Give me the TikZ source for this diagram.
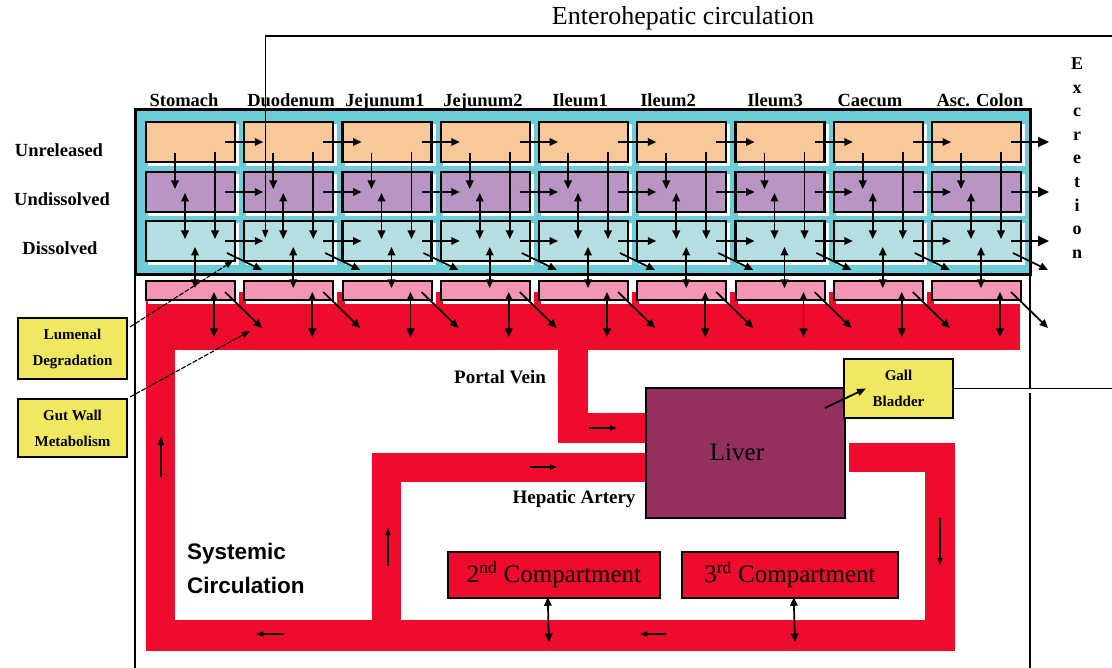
\documentclass[tikz,border=0pt]{standalone}
\usepackage{fontspec}
\setmainfont{Liberation Serif}
\newfontfamily\sansf{Liberation Sans}
\usetikzlibrary{arrows.meta,calc}
\definecolor{cyanbg}{RGB}{108,205,216}
\definecolor{peach}{RGB}{248,200,154}
\definecolor{lilac}{RGB}{184,149,196}
\definecolor{paleblue}{RGB}{181,222,224}
\definecolor{pinkc}{RGB}{244,149,184}
\definecolor{redc}{RGB}{238,12,44}
\definecolor{liverc}{RGB}{147,48,94}
\definecolor{yell}{RGB}{240,232,96}
\begin{document}
\begin{tikzpicture}[x=1pt,y=-1pt,
  cell/.style={draw=black,line width=2.4pt,minimum width=89pt,minimum height=40pt,inner sep=0pt,outer sep=0pt,anchor=north west},
  pinkbox/.style={draw=black,line width=2pt,fill=pinkc,minimum width=89pt,minimum height=19pt,inner sep=0pt,outer sep=0pt,anchor=north west},
  arr/.style={line width=1.7pt,-{Triangle[length=8.5pt,width=7.5pt]}},
  darr/.style={line width=1.7pt,{Triangle[length=8.5pt,width=7.5pt]}-{Triangle[length=8.5pt,width=7.5pt]}},
  bigarr/.style={line width=2pt,-{Triangle[length=11pt,width=10pt]}},
  flow/.style={line width=1.3pt,-{Triangle[length=7pt,width=5pt]}},
  lbl/.style={font=\bfseries\fontsize{18.5}{20}\selectfont,inner sep=0pt,anchor=base},
  ylab/.style={draw=black,line width=2pt,fill=yell,minimum width=109pt,inner sep=0pt,outer sep=0pt,align=center,font=\bfseries\fontsize{15}{26}\selectfont},
  comp/.style={draw=black,line width=2.6pt,fill=redc,minimum height=46pt,inner sep=0pt,font=\fontsize{25}{30}\selectfont},
  band/.style={fill=redc},
  leader/.style={line width=1.1pt,dash pattern=on 5pt off 1.5pt,-{Triangle[length=8pt,width=6pt]}},
]
\useasboundingbox (0,0) rectangle (1112,668);
\fill[white] (0,0) rectangle (1112,668);

% title
\node[font=\fontsize{26}{30}\selectfont,inner sep=0pt] (title) at (683,18) {Enterohepatic circulation};

% lumen (cyan) box
\node[draw=black,line width=3pt,fill=cyanbg,minimum width=895pt,minimum height=165pt,inner sep=0pt,outer sep=0pt,anchor=north west] (lumen) at (135,110) {};

% compartments in the lumen
\foreach \i in {1,...,9}{
  \pgfmathsetmacro\L{146+98.25*(\i-1)}
  \foreach \yy in {122,172,221}{\fill[white] (\L+2,\yy+2) rectangle (\L+93,\yy+44);}
  \node[cell,fill=peach] (u\i) at (\L,122) {};
  \node[cell,fill=lilac] (ud\i) at (\L,172) {};
  \node[cell,fill=paleblue] (d\i) at (\L,221) {};
  \coordinate (dg\i) at (\L+116,270);
  \coordinate (pb\i) at (\L+68,337);
  \coordinate (pg\i) at (\L+116,328);
}

% frame lines of the body
\draw[line width=1.5pt] (135,275) -- (135,668);
\draw[line width=1.5pt] (1030,275) -- (1030,388);
\draw[line width=1.5pt] (1030,393) -- (1030,668);

% red circulation bands
\fill[band] (146,292) rectangle (1020,350);
\fill[band] (146,292) rectangle (175,651);
\fill[band] (146,620) rectangle (955,651);
\fill[band] (925,443) rectangle (955,651);
\fill[band] (849,443) rectangle (955,472);
\fill[band] (372,453) rectangle (401,620);
\fill[band] (372,453) rectangle (646,482);
\fill[band] (558,350) rectangle (588,443);
\fill[band] (558,413) rectangle (646,443);

% gut wall boxes
\foreach \i in {1,...,9}{
  \pgfmathsetmacro\L{146+98.25*(\i-1)}
  \fill[white] (\L+2,283) rectangle (\L+93,304);
  \node[pinkbox] (p\i) at (\L,281) {};
}

% liver, gall bladder, compartments
\node[draw=black,line width=2.5pt,fill=liverc,minimum width=199pt,minimum height=130pt,inner sep=0pt,outer sep=0pt] (liver) at (745.5,453) {};
\node[font=\fontsize{25}{30}\selectfont,inner sep=0pt] (liverlbl) at (737,452) {Liver};
\node[ylab,minimum height=59pt] (gall) at (898.5,388.5) {Gall\\Bladder};
\node[comp,minimum width=212pt] (c2) at (554,575) {2\textsuperscript{nd} Compartment};
\node[comp,minimum width=216pt] (c3) at (790,575) {3\textsuperscript{rd} Compartment};

% yellow labels
\node[ylab,minimum height=61pt] (lum) at (72.5,348.5) {Lumenal\\Degradation};
\node[ylab,minimum height=58pt] (gutw) at (72.5,428) {Gut Wall\\Metabolism};

% arrows in the lumen and gut wall
\foreach \i in {1,...,9}{
  \draw[arr] ($(u\i.north west)+(29,31)$) -- ($(ud\i.north west)+(29,17)$);
  \draw[arr] ($(u\i.north west)+(69,30)$) -- ($(d\i.north west)+(69,18)$);
  \draw[darr] ($(ud\i.north west)+(39,21)$) -- ($(d\i.north west)+(39,18)$);
  \draw[darr] ($(d\i.north west)+(49,26)$) -- ($(p\i.north west)+(49,7)$);
  \draw[arr] ($(d\i.north west)+(81,32)$) -- (dg\i);
  \draw[darr] ($(p\i.north west)+(68,11)$) -- (pb\i);
  \draw[arr] ($(p\i.north west)+(79,11)$) -- (pg\i);
}
\foreach \i in {1,...,8}{
  \pgfmathtruncatemacro\j{\i+1}
  \draw[arr] ($(u\i.north west)+(79,20)$) -- ($(u\j.north west)+(19,20)$);
  \draw[arr] ($(ud\i.north west)+(79,20)$) -- ($(ud\j.north west)+(19,20)$);
  \draw[arr] ($(d\i.north west)+(79,20)$) -- ($(d\j.north west)+(19,20)$);
}
\coordinate (exu) at (1049,142);
\coordinate (exud) at (1049,192);
\coordinate (exd) at (1049,241);
\draw[bigarr] ($(u9.north west)+(79,20)$) -- (exu);
\draw[bigarr] ($(ud9.north west)+(79,20)$) -- (exud);
\draw[bigarr] ($(d9.north west)+(79,20)$) -- (exd);

% enterohepatic recirculation and bile
\coordinate (ehR) at (1112,36);
\draw[line width=1.2pt,-{Triangle[length=8pt,width=6pt]}] (ehR) -| ($(d2.north west)+(21,17)$);
\coordinate (gallR) at (1112,388.5);
\draw[line width=1.2pt] (gall.east) -- (gallR);
\draw[line width=1.8pt,-{Triangle[length=9pt,width=7pt]}] ($(liver.north east)+(-20,20)$) -- ($(gall.west)+(22,0)$);

% flow arrows in the bands
\coordinate (fa1) at (161,477); \coordinate (fb1) at (161,437);
\coordinate (fa2) at (284,634); \coordinate (fb2) at (256,634);
\coordinate (fa3) at (666,634); \coordinate (fb3) at (640,634);
\coordinate (fa4) at (388,566); \coordinate (fb4) at (388,528);
\coordinate (fa5) at (530,467); \coordinate (fb5) at (557,467);
\coordinate (fa6) at (589,428); \coordinate (fb6) at (617,428);
\coordinate (fa7) at (940,518); \coordinate (fb7) at (940,565);
\foreach \k in {1,...,7}{\draw[flow] (fa\k) -- (fb\k);}
\draw[line width=2.4pt,-{Triangle[length=8pt,width=6pt]}] (fa1) -- (fb1);

% compartment exchange
\coordinate (c2b) at (549,642);
\coordinate (c3b) at (795,642);
\draw[darr] ($(c2.south west)+(101,-2)$) -- (c2b);
\draw[darr] ($(c3.south west)+(113,-2)$) -- (c3b);

% leader lines
\coordinate (lumT) at (233,261);
\coordinate (gutT) at (250,331);
\draw[leader] ($(lum.north east)+(3,9)$) -- (lumT);
\draw[leader] ($(gutw.north east)+(3,-2)$) -- (gutT);

% labels
\foreach \x/\t/\n in {184/Stomach/lA,291/Duodenum/lB,385/Jejunum1/lC,483/Jejunum2/lD,580/Ileum1/lE,668/Ileum2/lF,775/Ileum3/lG,870/Caecum/lH,980/Asc. Colon/lI}
  \node[lbl] (\n) at (\x,107) {\t};
\node[lbl] (rowU) at (59,157) {Unreleased};
\node[lbl] (rowUD) at (62,206) {Undissolved};
\node[lbl] (rowD) at (60,255) {Dissolved};
\foreach \c [count=\k] in {E,x,c,r,e,t,i,o,n}
  \node[font=\bfseries\fontsize{18}{20}\selectfont,inner sep=0pt,anchor=base] (exc\k) at (1077,69.5+23.6*\k-23.6) {\c};
\node[font=\bfseries\fontsize{19}{20}\selectfont,inner sep=0pt,anchor=base] (pv) at (500,384) {Portal Vein};
\node[font=\bfseries\fontsize{19}{20}\selectfont,inner sep=0pt,anchor=base] (ha) at (574,503) {Hepatic Artery};
\node[font=\sansf\bfseries\fontsize{22.5}{34}\selectfont,inner sep=0pt,align=left,anchor=west] (sys) at (187,568) {Systemic\\Circulation};
\end{tikzpicture}
\end{document}
